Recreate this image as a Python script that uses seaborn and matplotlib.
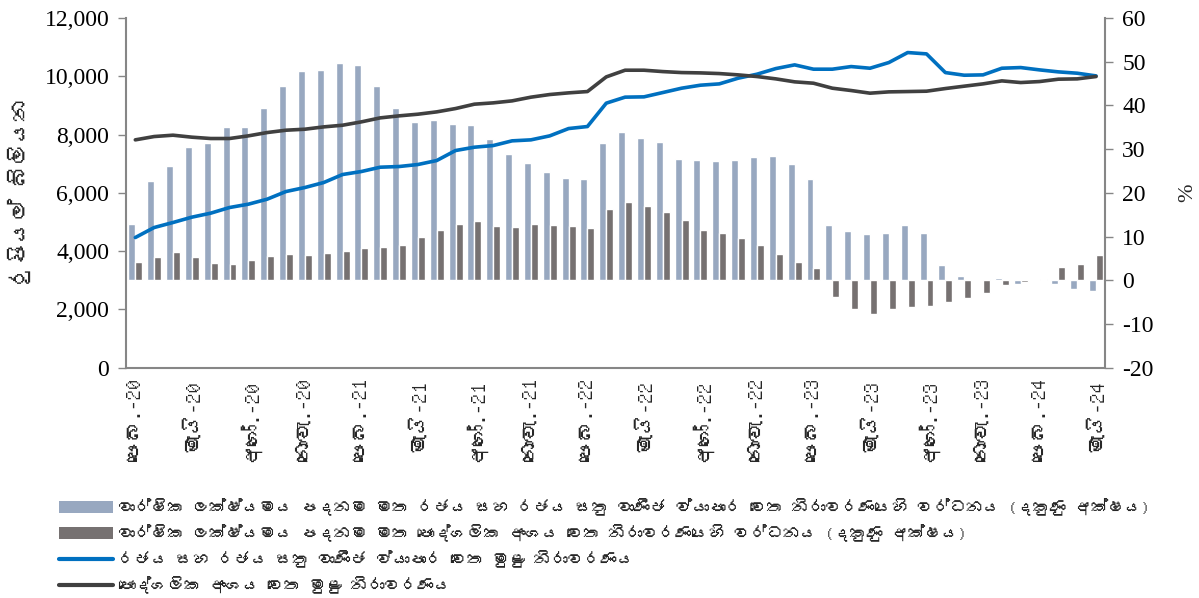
import numpy as np
import pandas as pd
import matplotlib
matplotlib.use("Agg")
import matplotlib.pyplot as plt
from matplotlib import font_manager as fm
from matplotlib.ft2font import FT2Font
from matplotlib.patches import Patch
from matplotlib.lines import Line2D
import seaborn as sns

# ---------------- data ----------------
month_names = ["ජන.", "පෙබ.", "මාර්.", "අප්‍රේ.", "මැයි", "ජූනි", "ජූලි", "අගෝ.", "සැප්.", "ඔක්.", "නොවැ.", "දෙසැ."]
months = []
for yr in range(20, 25):
    for m in range(12):
        months.append(f"{month_names[m]}-{yr}")
months = months[1:1 + 52]   # පෙබ.-20 ... මැයි-24

tick_labels = ["පෙබ.-20", "මැයි-20", "අගෝ.-20", "නොවැ.-20", "පෙබ.-21", "මැයි-21", "අගෝ.-21", "නොවැ.-21",
               "පෙබ.-22", "මැයි-22", "අගෝ.-22", "නොවැ.-22", "පෙබ.-23", "මැයි-23", "අගෝ.-23", "නොවැ.-23",
               "පෙබ.-24", "මැයි-24"]

# y-o-y growth of exposure to government & SOBEs (%, right axis)
state_growth = [12.8, 22.7, 26.2, 30.5, 31.3, 35.1, 35.0, 39.3, 44.5, 47.8, 48.0, 49.7, 49.3, 44.5, 39.4,
                36.2, 36.7, 35.7, 35.5, 32.3, 28.9, 26.8, 24.8, 23.4, 23.1, 31.4, 34.0, 32.6, 31.7, 27.8,
                27.5, 27.3, 27.4, 28.2, 28.5, 26.6,
                23.2, 12.7, 11.2, 10.6, 10.9, 12.7, 10.9, 3.5, 0.9, 0.1, 0.6, -0.9, 0.1, -0.9, -2.0, -2.4]
# y-o-y growth of exposure to private sector (%, right axis)
private_growth = [4.1, 5.4, 6.4, 5.4, 3.9, 3.8, 4.6, 5.5, 6.1, 5.9, 6.2, 6.8, 7.5, 7.7,
                  8.0, 9.8, 11.5, 12.8, 13.5, 12.4, 12.1, 12.8, 12.6, 12.5, 11.9, 16.3, 17.9, 17.1, 15.7,
                  13.8, 11.6, 10.9, 9.6, 8.0, 6.1,
                  4.2, 2.9, -3.9, -6.6, -7.7, -6.6, -6.1, -5.9, -4.9, -4.0, -3.0, -1.1, -0.5, 0.4, 3.1, 3.8, 5.8]
# total exposure to government & SOBEs (Rs. bn, left axis)
state_total = [4468, 4811, 4983, 5166, 5303, 5497, 5611, 5783, 6046, 6183, 6354, 6629, 6732, 6880, 6903,
               6972, 7109, 7452, 7566, 7623, 7784, 7818, 7955, 8206, 8275, 9077, 9283, 9293, 9441, 9590,
               9693, 9738, 9933, 10070, 10263, 10390,
               10242, 10242, 10332, 10275, 10470, 10813, 10767, 10126, 10035, 10047, 10275, 10298, 10218,
               10150, 10104, 10012]
# total exposure to private sector (Rs. bn, left axis)
private_total = [7818, 7932, 7978, 7910, 7864, 7864, 7955, 8069, 8149, 8183, 8263, 8320, 8435, 8572, 8641,
                 8698, 8778, 8892, 9042, 9087, 9155, 9282, 9373, 9430, 9475, 9978, 10207, 10207, 10160, 10126,
                 10115, 10092, 10047, 9990, 9910, 9808,
                 9761, 9590, 9510, 9419, 9464, 9475, 9487, 9578, 9659, 9738, 9841, 9784, 9818, 9899, 9910, 9990]

legend_labels = [
    "වාර්ෂික ලක්ෂ්‍යමය පදනම මත රජය සහ රජය සතු වාණිජ ව්‍යාපාර වෙත නිරාවරණයෙහි වර්ධනය (දකුණු අක්ෂය)",
    "වාර්ෂික ලක්ෂ්‍යමය පදනම මත පෞද්ගලික අංශය වෙත නිරාවරණයෙහි වර්ධනය (දකුණු අක්ෂය)",
    "රජය සහ රජය සතු වාණිජ ව්‍යාපාර වෙත මුළු නිරාවරණය",
    "පෞද්ගලික අංශය වෙත මුළු නිරාවරණය",
]
left_label = "රුපියල් බිලියන"
right_label = "%"


def disp(s):
    # the renderer has no shaping engine: drop the invisible zero-width joiner
    return s.replace("\u200d", "")


# ---------------- fonts ----------------
sinhala_font = None
for f in fm.fontManager.ttflist:
    try:
        cmap = FT2Font(f.fname).get_charmap()
        if 0x0DBB in cmap and 0x0DCA in cmap:
            sinhala_font = f.name
            break
    except Exception:
        pass

sns.set_theme(style="white")
serif = "Liberation Serif"
fam_sin = ([sinhala_font] if sinhala_font else []) + [serif, "DejaVu Sans"]
plt.rcParams["font.family"] = [serif, "DejaVu Sans"]

c_light = "#98A8C0"
c_dark = "#767171"
c_blue = "#0070C0"
c_black = "#404040"
c_axis = "#868686"

# ---------------- figure ----------------
fig = plt.figure(figsize=(11.99, 5.98), dpi=100)
ax = fig.add_axes([0.105, 0.385, 0.817, 0.585])
axr = ax.twinx()

df_bar = pd.DataFrame({
    "month": months * 2,
    "value": state_growth + private_growth,
    "series": ["state"] * len(months) + ["private"] * len(months),
})
sns.barplot(data=df_bar, x="month", y="value", hue="series", order=months,
            hue_order=["state", "private"], palette=[c_light, c_dark],
            width=0.74, gap=0, legend=False, ax=axr, saturation=1)

x = np.arange(len(months))
sns.lineplot(x=x, y=state_total, ax=ax, color=c_blue, lw=2.6)
sns.lineplot(x=x, y=private_total, ax=ax, color=c_black, lw=2.6)

ax.set_zorder(axr.get_zorder() + 1)
ax.patch.set_visible(False)

ax.set_xlim(-0.5, len(months) - 0.5)
ax.set_ylim(0, 12000)
axr.set_ylim(-20, 60)
ax.set_yticks(np.arange(0, 12001, 2000))
ax.set_yticklabels([f"{v:,}" for v in range(0, 12001, 2000)])
axr.set_yticks(np.arange(-20, 61, 10))
axr.set_yticklabels([str(v) for v in range(-20, 61, 10)])

tick_pos = np.arange(0, len(months), 3)
ax.set_xticks(tick_pos)
ax.set_xticklabels([disp(t) for t in tick_labels], rotation=90, family=fam_sin, fontsize=15)
ax.set_xlabel("")
axr.set_xlabel("")
axr.set_ylabel("")

ax.tick_params(axis="y", labelsize=17, colors="black", length=6, width=1, direction="out", color=c_axis, pad=6)
axr.tick_params(axis="y", labelsize=17, colors="black", length=6, width=1, direction="out", color=c_axis, pad=6)
ax.tick_params(axis="x", length=0, pad=8)

for s in ["top", "right"]:
    ax.spines[s].set_visible(False)
for s in ["top", "left", "bottom"]:
    axr.spines[s].set_visible(False)
for s in ["left", "bottom"]:
    ax.spines[s].set_color(c_axis)
    ax.spines[s].set_linewidth(1.5)
axr.spines["right"].set_color(c_axis)
axr.spines["right"].set_linewidth(1.5)

ax.set_ylabel(disp(left_label), family=fam_sin, fontsize=16, labelpad=10)
axr.set_ylabel(right_label, fontsize=16, labelpad=18, rotation=90)

handles = [Patch(facecolor=c_light, edgecolor="none"),
           Patch(facecolor=c_dark, edgecolor="none"),
           Line2D([], [], color=c_blue, lw=3),
           Line2D([], [], color=c_black, lw=3)]
fig.legend(handles, [disp(l) for l in legend_labels], loc="lower left", bbox_to_anchor=(0.042, -0.007),
           frameon=False, ncol=1, prop={"family": fam_sin, "size": 12},
           handlelength=3.25, handleheight=0.75, handletextpad=0.3, labelspacing=0.5,
           borderaxespad=0.1)

fig.savefig("out.png", dpi=100)
